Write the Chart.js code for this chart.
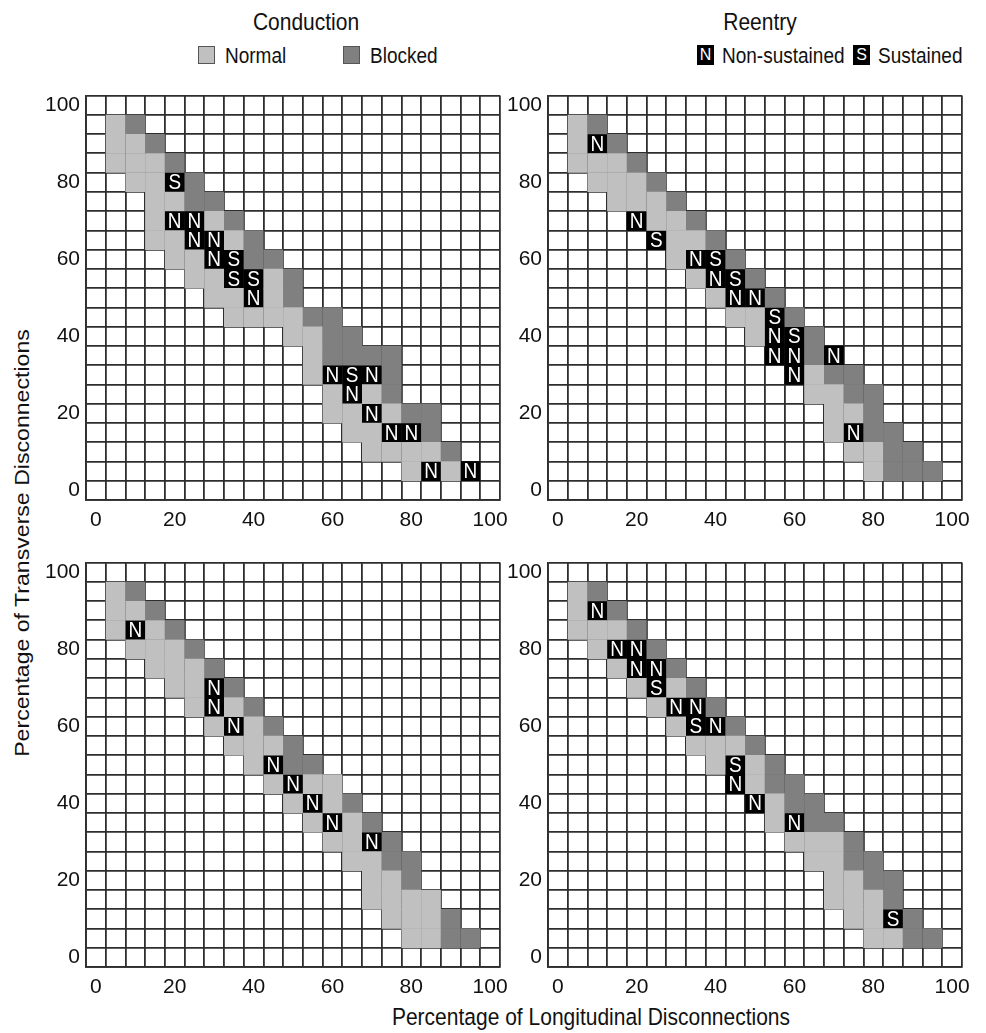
<!DOCTYPE html>
<html>
<head>
<meta charset="utf-8">
<script src="https://cdn.jsdelivr.net/npm/chart.js@4.4.1/dist/chart.umd.min.js"></script>
<style>
  body { margin: 0; background: #fff; font-family: "Liberation Sans", Arial, sans-serif; color: #111; }
  #wrap { position: relative; width: 986px; height: 1033px; overflow: hidden; }
  canvas { position: absolute; }
  .t { position: absolute; font-size: 21px; white-space: nowrap; line-height: 24px; transform: scaleY(1.1); }
  .lg { position: absolute; font-size: 20px; white-space: nowrap; line-height: 24px; transform-origin: left center; transform: scale(0.95, 1.1); }
  .box { position: absolute; width: 17px; height: 18px; box-sizing: border-box; border: 1px solid #555; }
  .key { position: absolute; width: 17px; height: 20px; background: #000; color: #fff; font-size: 16px; line-height: 20px; text-align: center; }
</style>
</head>
<body>
<div id="wrap">
  <div class="t" style="left:206px;top:10px;width:200px;text-align:center">Conduction</div>
  <div class="t" style="left:660px;top:10px;width:200px;text-align:center">Reentry</div>

  <div class="box" style="left:198px;top:46px;background:#c0c0c0"></div>
  <div class="lg" style="left:225px;top:43px">Normal</div>
  <div class="box" style="left:343px;top:46px;background:#808080"></div>
  <div class="lg" style="left:370px;top:43px">Blocked</div>
  <div class="key" style="left:697px;top:45px">N</div>
  <div class="lg" style="left:722px;top:43px">Non-sustained</div>
  <div class="key" style="left:853px;top:45px">S</div>
  <div class="lg" style="left:878px;top:43px">Sustained</div>

  <div class="t" style="left:-278px;top:531px;width:600px;text-align:center;transform:rotate(-90deg) scaleX(1.1)">Percentage of Transverse Disconnections</div>
  <div class="t" style="left:291px;top:1005px;width:600px;text-align:center">Percentage of Longitudinal Disconnections</div>

  <canvas id="c1" width="490" height="463" style="left:20px;top:77px"></canvas>
  <canvas id="c2" width="490" height="463" style="left:482px;top:77px"></canvas>
  <canvas id="c3" width="490" height="463" style="left:20px;top:544px"></canvas>
  <canvas id="c4" width="490" height="463" style="left:482px;top:544px"></canvas>
</div>
<script>
// longitudinal (x) and transverse (y) disconnection percentages, one per cell
var xValues = [0, 5, 10, 15, 20, 25, 30, 35, 40, 45, 50, 55, 60, 65, 70, 75, 80, 85, 90, 95, 100];
var yValues = [100, 95, 90, 85, 80, 75, 70, 65, 60, 55, 50, 45, 40, 35, 30, 25, 20, 15, 10, 5, 0];
var tickLabels = [0, 20, 40, 60, 80, 100];

// one string per row (top = 100%), one char per column (left = 0%)
// L = normal conduction, D = blocked, N = non-sustained reentry, S = sustained reentry
var topLeft = [
  '',
  '.LD',
  '.LLD',
  '.LLLD',
  '..LLSD',
  '...LLDD',
  '...LNNLD',
  '...LLNNLD',
  '....LLNSDD',
  '.....LLSSLD',
  '......LLNLD',
  '.......LLLLDD',
  '..........LLDD',
  '...........LDDDD',
  '...........LNSND',
  '............LNLD',
  '............LLNLDD',
  '.............LLNND',
  '..............LLLLD',
  '................LNLN',
  ''
];
var topRight = [
  '',
  '.LD',
  '.LND',
  '.LLLD',
  '..LLLD',
  '...LLLD',
  '....NLLD',
  '.....SLLD',
  '......LNSD',
  '.......LNSD',
  '........LNND',
  '.........LLSD',
  '..........LNSD',
  '...........NNDN',
  '............NLDD',
  '.............LLDD',
  '..............LLD',
  '..............LNDD',
  '...............LLDD',
  '................LDDD',
  ''
];
var bottomLeft = [
  '',
  '.LD',
  '.LLD',
  '.LNLD',
  '..LLLD',
  '...LLLD',
  '....LLND',
  '.....LNLD',
  '......LNLD',
  '.......LLLD',
  '........LNDD',
  '.........LNLL',
  '..........LNLD',
  '...........LNLD',
  '............LLND',
  '.............LLDD',
  '..............LLD',
  '..............LLLL',
  '...............LLLD',
  '................LLDD',
  ''
];
var bottomRight = [
  '',
  '.LD',
  '.LND',
  '.LLLD',
  '..LNND',
  '...LNND',
  '....LSLD',
  '.....LNND',
  '......LSND',
  '.......LLLD',
  '........LSLD',
  '.........NLDD',
  '..........NLDD',
  '...........LNDD',
  '............LLLD',
  '.............LLDD',
  '..............LLDD',
  '..............LLLD',
  '...............LLSD',
  '................LLDD',
  ''
];

var FONT = '"Liberation Sans", Arial, sans-serif';

// grid lines sit on the cell borders, labels on the cell centres
var boundaries = xValues.map(v => v - 2.5).concat([102.5]);
var tickValues = boundaries.concat(tickLabels).sort((a, b) => a - b);

// draws the white N / S on the black reentry cells
var letterPlugin = {
  id: 'cellLetters',
  afterDatasetsDraw(chart) {
    var ctx = chart.ctx;
    chart.data.datasets.forEach((ds, i) => {
      if (!ds.letter) return;
      chart.getDatasetMeta(i).data.forEach(el => {
        ctx.save();
        ctx.translate(el.x, el.y + 1);
        ctx.scale(0.95, 1.12);
        ctx.fillStyle = '#fff';
        ctx.font = '20px ' + FONT;
        ctx.textAlign = 'center';
        ctx.textBaseline = 'middle';
        ctx.fillText(ds.letter, 0, 0);
        ctx.restore();
      });
    });
  }
};

function cellRadius(c) {
  var s = c.chart.scales.x;
  return Math.abs(s.getPixelForValue(5) - s.getPixelForValue(0)) / Math.SQRT2;
}

function axis(pos) {
  return {
    type: 'linear',
    position: pos,
    min: -2.5,
    max: 102.5,
    z: 1,
    afterBuildTicks: a => { a.ticks = tickValues.map(v => ({ value: v })); },
    afterFit: a => { if (pos === 'left') a.width = 66; else a.height = 40; },
    grid: {
      color: c => (c.tick && tickLabels.includes(c.tick.value)) ? 'rgba(0,0,0,0)' : '#2e2e2e',
      lineWidth: 1.8,
      drawTicks: false
    },
    border: { color: '#2e2e2e', width: 1.8 },
    ticks: {
      autoSkip: false,
      maxRotation: 0,
      minRotation: 0,
      padding: pos === 'left' ? 6 : 8,
      color: '#111',
      font: { size: 21, family: FONT },
      callback: v => tickLabels.includes(v) ? String(v) : ''
    }
  };
}

function cellsOf(rows, code) {
  var pts = [];
  rows.forEach((row, r) => {
    for (var c = 0; c < row.length; c++) {
      if (row[c] === code) pts.push({ x: xValues[c], y: yValues[r] });
    }
  });
  return pts;
}

function createPanel(id, rows) {
  var ctx = document.getElementById(id).getContext('2d');
  var kinds = [
    { code: 'L', color: '#c0c0c0' },
    { code: 'D', color: '#808080' },
    { code: 'N', color: '#000000', letter: 'N' },
    { code: 'S', color: '#000000', letter: 'S' }
  ];
  return new Chart(ctx, {
    type: 'scatter',
    data: {
      datasets: kinds.map(k => ({
        data: cellsOf(rows, k.code),
        letter: k.letter,
        backgroundColor: k.color,
        borderWidth: 0,
        pointStyle: 'rect',
        radius: cellRadius,
        hoverRadius: cellRadius
      }))
    },
    options: {
      responsive: false,
      animation: false,
      events: [],
      layout: { padding: { top: 10, right: 10, left: 0, bottom: 0 } },
      plugins: { legend: { display: false }, tooltip: { enabled: false } },
      scales: { x: axis('bottom'), y: axis('left') }
    },
    plugins: [letterPlugin]
  });
}

createPanel('c1', topLeft);
createPanel('c2', topRight);
createPanel('c3', bottomLeft);
createPanel('c4', bottomRight);
</script>
</body>
</html>
